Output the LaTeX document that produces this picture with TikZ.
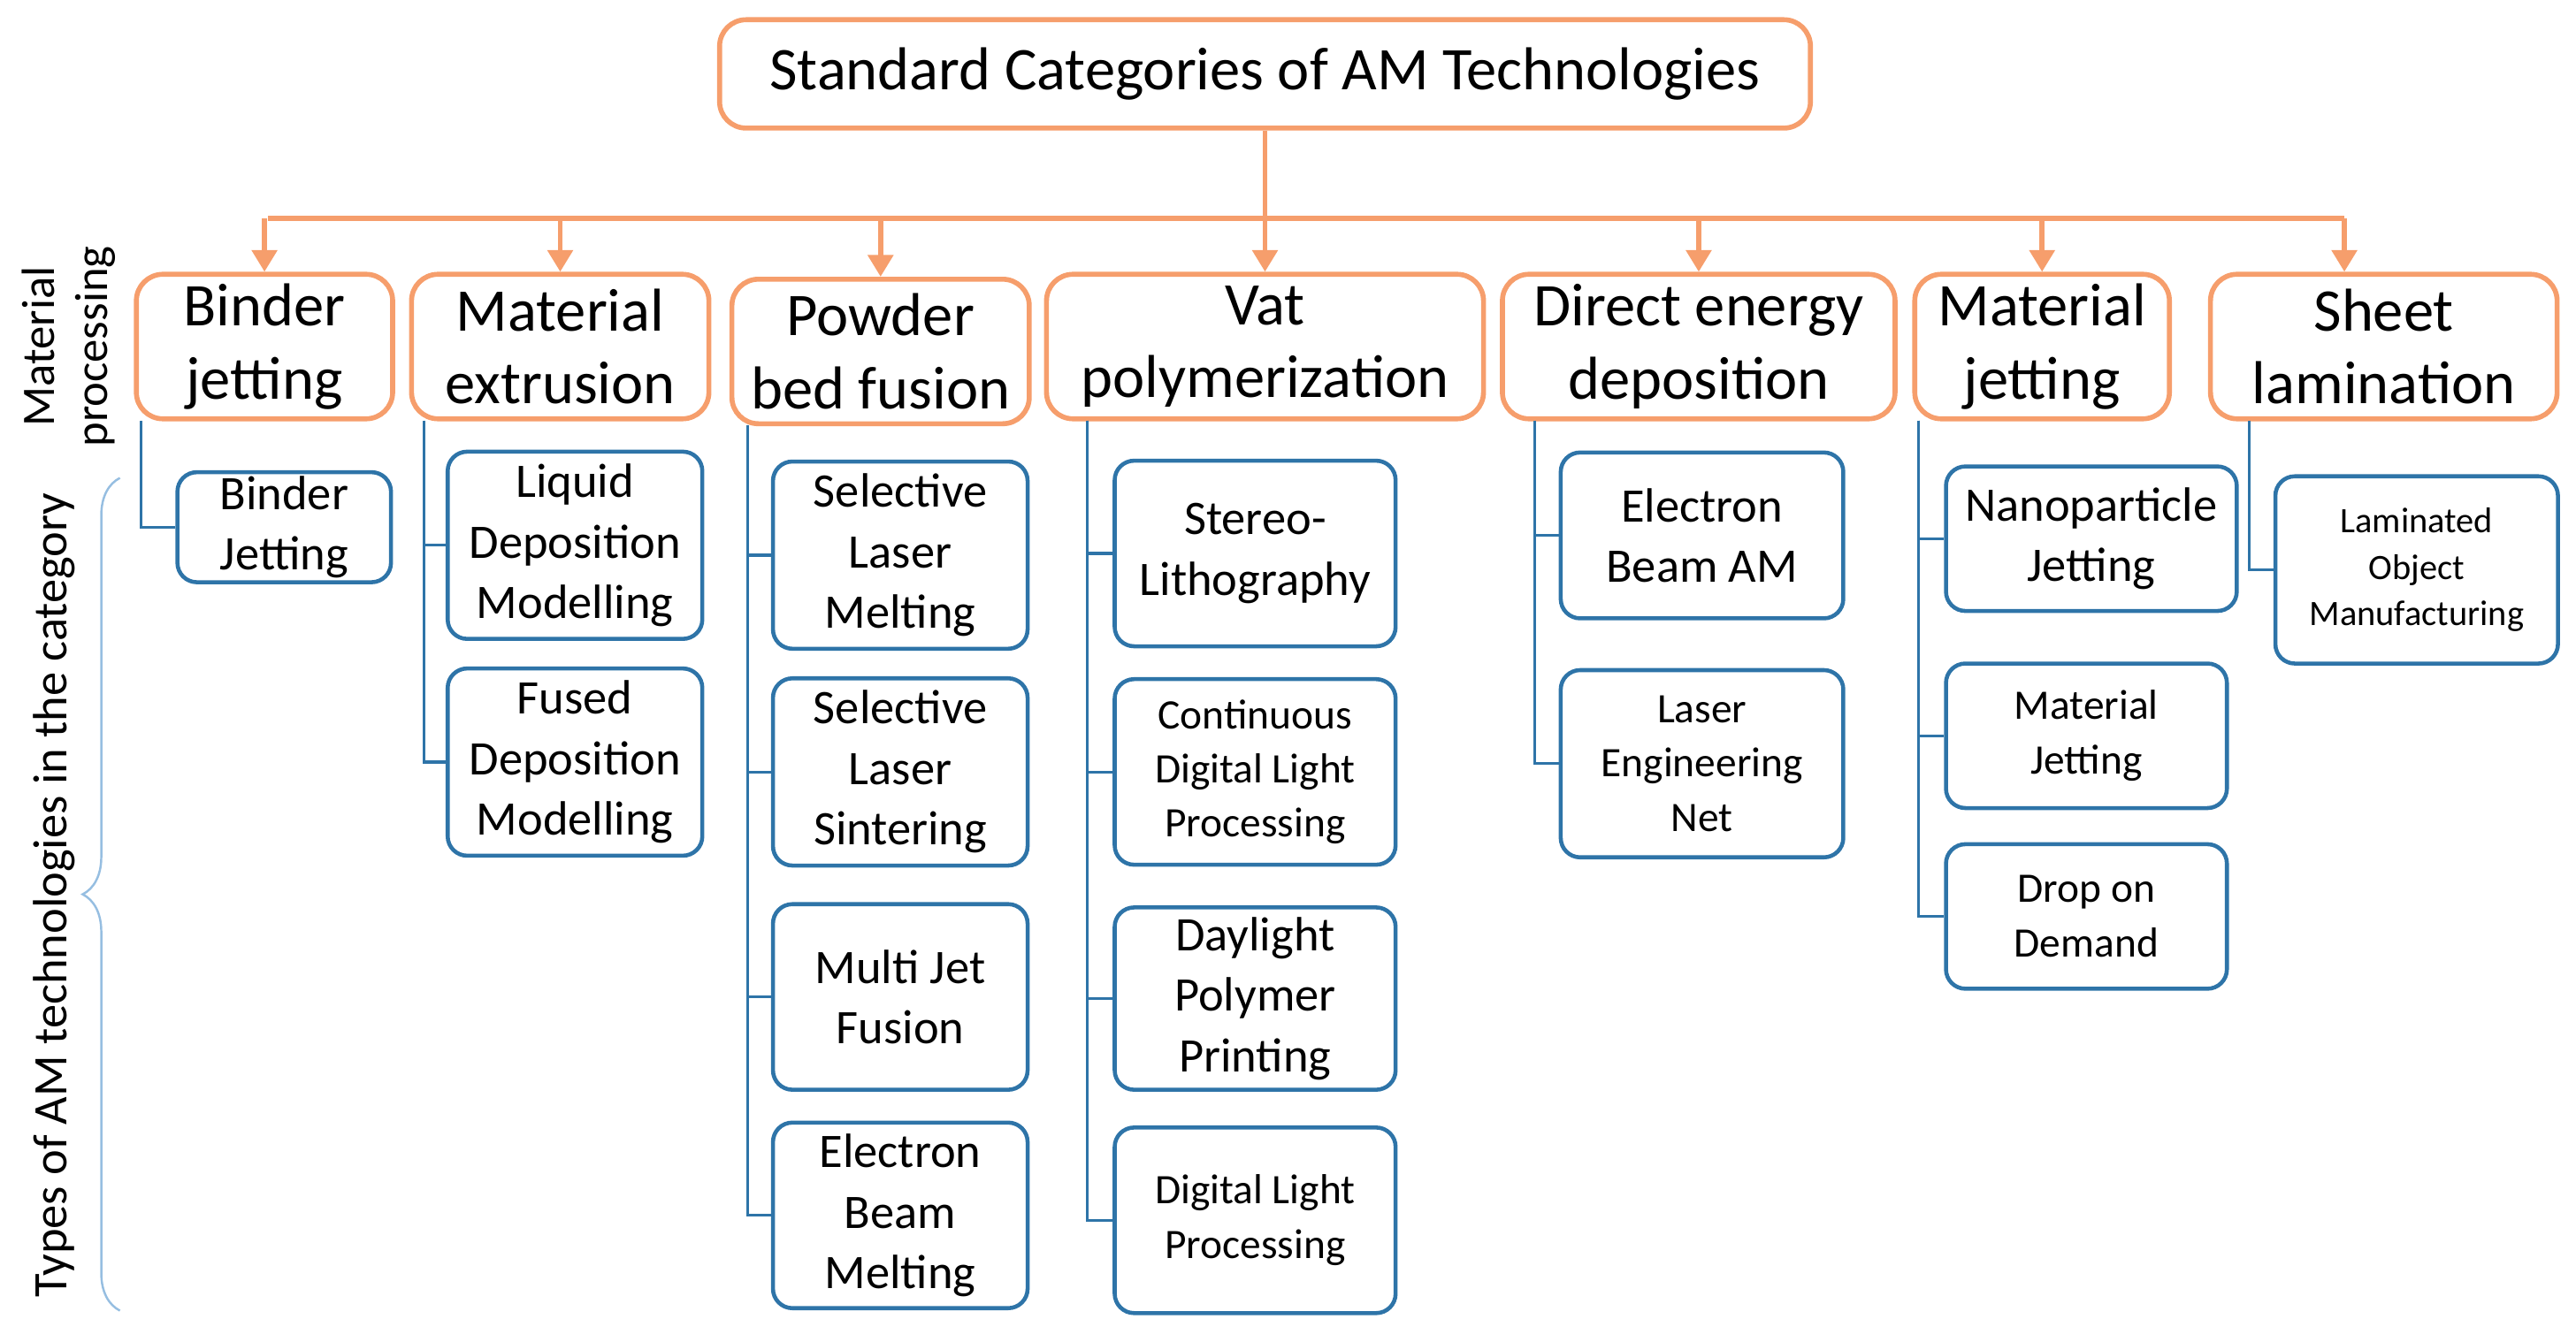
\documentclass[tikz,border=0pt]{standalone}
\usepackage{fontspec}
\setmainfont{Carlito}
\usetikzlibrary{arrows.meta,decorations.pathreplacing}
\definecolor{org}{RGB}{246,158,108}
\definecolor{blu}{RGB}{46,116,168}
\definecolor{lblu}{RGB}{150,190,225}
\begin{document}
\begin{tikzpicture}[x=0.01858cm,y=-0.01858cm,
 cat/.style={draw=org,line width=1.6pt,rounded corners=0.3cm,align=center,inner sep=0pt,font=\fontsize{19.5}{23.5}\selectfont},
 sub/.style={draw=blu,line width=1.3pt,rounded corners=0.22cm,align=center,inner sep=0pt,font=\fontsize{15.5}{19.5}\selectfont},
 sm/.style={font=\fontsize{13.5}{17.5}\selectfont},
 xs/.style={font=\fontsize{11.5}{15}\selectfont},
 oarr/.style={draw=org,line width=1.6pt,-{Triangle[length=7pt,width=8pt]}},
 bl/.style={draw=blu,line width=0.9pt}]
\useasboundingbox (0,0) rectangle (1568,817);
\newcommand{\bx}[6]{\node[#1,minimum width={(#4)*0.01858cm},minimum height={(#5)*0.01858cm}] (#2) at (#3) {#6};}
% title
\bx{cat}{T}{770,45}{664}{66}{Standard Categories of AM Technologies}
% categories
\bx{cat}{c1}{161,211}{156}{88}{Binder\\jetting}
\bx{cat}{c2}{341,211}{181}{88}{Material\\extrusion}
\bx{cat}{c3}{536,214}{181}{88}{Powder\\bed fusion}
\bx{cat}{c4}{770,211}{266}{88}{Vat\\polymerization}
\bx{cat}{c5}{1034,211}{239}{88}{Direct energy\\deposition}
\bx{cat}{c6}{1243,211}{155}{88}{Material\\jetting}
\bx{cat}{c7}{1451,211}{211}{88}{Sheet\\lamination}
\coordinate (hl) at (163,133);
\coordinate (hr) at (1427,133);
\draw[org,line width=1.6pt] (hl) -- (hr);
\draw[org,line width=1.6pt] (T.south) -- (770,133);
\foreach \c in {c1,c2,c3,c4,c5,c6}{\draw[oarr] (\c.north |- hl) -- (\c.north);}
\draw[oarr] (hr) -- (hr |- c7.north);
% subs
\bx{sub}{s11}{173,321}{130}{67}{Binder\\Jetting}
\bx{sub}{s21}{350,332}{155}{114}{Liquid\\Deposition\\Modelling}
\bx{sub}{s22}{350,464}{155}{114}{Fused\\Deposition\\Modelling}
\bx{sub}{s31}{548,338}{155}{114}{Selective\\Laser\\Melting}
\bx{sub}{s32}{548,470}{155}{114}{Selective\\Laser\\Sintering}
\bx{sub}{s33}{548,607}{155}{113}{Multi Jet\\Fusion}
\bx{sub}{s34}{548,740}{155}{113}{Electron\\Beam\\Melting}
\bx{sub}{s41}{764,337}{171}{113}{Stereo-\\Lithography}
\bx{sub,sm}{s42}{764,470}{171}{113}{Continuous\\Digital Light\\Processing}
\bx{sub}{s43}{764,608}{171}{111}{Daylight\\Polymer\\Printing}
\bx{sub,sm}{s44}{764,743}{171}{113}{Digital Light\\Processing}
\bx{sub}{s51}{1036,326}{172}{101}{Electron\\Beam AM}
\bx{sub,sm}{s52}{1036,465}{172}{114}{Laser\\Engineering\\Net}
\bx{sub}{s61}{1273,328}{177}{88}{Nanoparticle\\Jetting}
\bx{sub,sm}{s62}{1270,448}{171}{88}{Material\\Jetting}
\bx{sub,sm}{s63}{1270,558}{171}{88}{Drop on\\Demand}
\bx{sub,xs}{s71}{1471,347}{172}{114}{Laminated\\Object\\Manufacturing}
% connectors
\coordinate (v1) at (86,256);
\coordinate (v2) at (258,256);
\coordinate (v3) at (455,259);
\coordinate (v4) at (662,256);
\coordinate (v5) at (934,256);
\coordinate (v6) at (1168,256);
\coordinate (v7) at (1369,256);
\draw[bl] (v1) |- (s11.west);
\foreach \s in {s21,s22}{\draw[bl] (v2) |- (\s.west);}
\foreach \s in {s31,s32,s33,s34}{\draw[bl] (v3) |- (\s.west);}
\foreach \s in {s41,s42,s43,s44}{\draw[bl] (v4) |- (\s.west);}
\foreach \s in {s51,s52}{\draw[bl] (v5) |- (\s.west);}
\foreach \s in {s61,s62,s63}{\draw[bl] (v6) |- (\s.west);}
\draw[bl] (v7) |- (s71.west);
% side labels
\node[rotate=90,align=center,font=\fontsize{15}{17}\selectfont] (L1) at (42,211) {Material\\processing};
\node[rotate=90,font=\fontsize{15.5}{18}\selectfont] (L2) at (33,545) {Types of AM technologies in the category};
\coordinate (b1) at (73,798);
\coordinate (b2) at (73,291);
\draw[lblu,line width=0.7pt,decorate,decoration={brace,amplitude=12pt}] (b1) -- (b2);
\end{tikzpicture}
\end{document}
